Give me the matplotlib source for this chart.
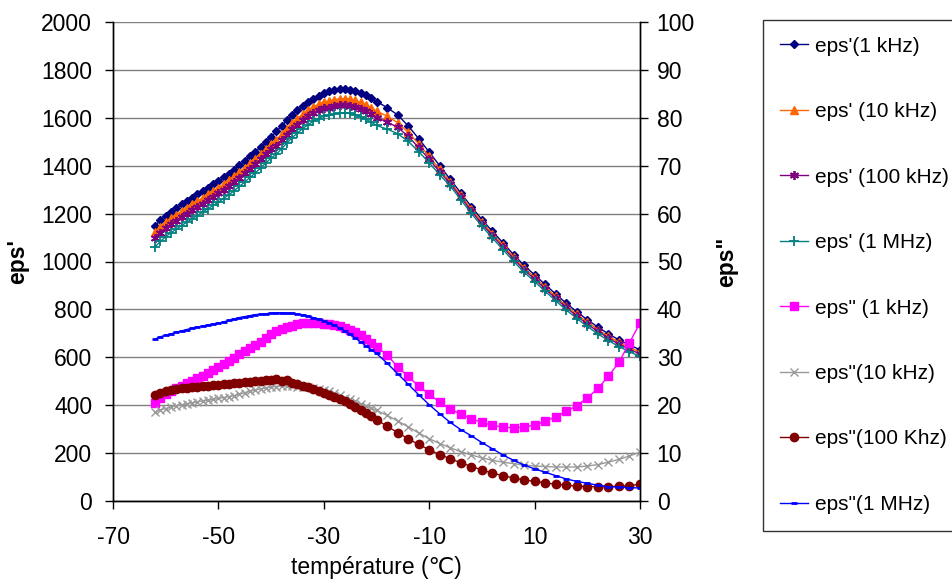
import matplotlib
matplotlib.use("Agg")
import matplotlib.pyplot as plt

plt.rcParams['font.family'] = ['Liberation Sans', 'DejaVu Sans']
plt.rcParams['axes.unicode_minus'] = False

# temperature (degC)
temp = [-62, -61, -60, -59, -58, -57, -56, -55, -54, -53, -52, -51, -50, -49, -48,
        -47, -46, -45, -44, -43, -42, -41, -40, -39, -38, -37, -36, -35, -34, -33,
        -32, -31, -30, -29, -28, -27, -26, -25, -24, -23, -22, -21, -20,
        -18, -16, -14, -12, -10, -8, -6, -4, -2, 0, 2, 4, 6, 8, 10, 12, 14, 16,
        18, 20, 22, 24, 26, 28, 30]

# eps' (left axis)
eps1_1k = [1150, 1172, 1192, 1208, 1223, 1238, 1252, 1266, 1280, 1294, 1308, 1322, 1336, 1351, 1367,
           1384, 1402, 1420, 1439, 1458, 1478, 1499, 1520, 1543, 1566, 1590, 1612, 1632, 1650, 1666,
           1680, 1692, 1702, 1710, 1716, 1719, 1720, 1718, 1713, 1705, 1694, 1682, 1668,
           1643, 1612, 1567, 1513, 1457, 1400, 1343, 1286, 1229, 1175, 1126, 1078, 1029, 984, 944, 904, 864, 826,
           790, 757, 726, 698, 673, 651, 632]
eps1_10k = [1122, 1144, 1164, 1180, 1195, 1210, 1224, 1238, 1252, 1266, 1280, 1294, 1308, 1323, 1339,
            1356, 1374, 1392, 1411, 1430, 1450, 1471, 1492, 1508, 1531, 1555, 1577, 1597, 1615, 1631,
            1645, 1657, 1667, 1670, 1676, 1679, 1680, 1678, 1673, 1665, 1654, 1642, 1628,
            1607, 1580, 1540, 1491, 1439, 1385, 1333, 1276, 1219, 1165, 1116, 1068, 1019, 974, 934, 894, 854, 816,
            780, 747, 716, 688, 663, 641, 622]
eps1_100k = [1098, 1120, 1140, 1156, 1171, 1186, 1200, 1214, 1228, 1242, 1256, 1270, 1284, 1299, 1315,
             1332, 1350, 1368, 1387, 1406, 1426, 1447, 1468, 1483, 1506, 1530, 1552, 1572, 1590, 1606,
             1620, 1632, 1642, 1643, 1649, 1652, 1653, 1651, 1646, 1638, 1627, 1615, 1601,
             1583, 1560, 1523, 1476, 1427, 1374, 1325, 1268, 1211, 1157, 1108, 1060, 1011, 966, 926, 886, 846, 808,
             772, 739, 708, 680, 655, 633, 614]
eps1_1M = [1062, 1084, 1104, 1120, 1135, 1150, 1164, 1178, 1192, 1206, 1220, 1234, 1248, 1263, 1279,
           1296, 1314, 1332, 1351, 1370, 1390, 1411, 1432, 1448, 1471, 1495, 1517, 1537, 1555, 1571,
           1585, 1597, 1607, 1610, 1616, 1619, 1620, 1618, 1613, 1605, 1594, 1582, 1568,
           1553, 1534, 1502, 1459, 1412, 1362, 1315, 1258, 1201, 1147, 1098, 1050, 1001, 956, 916, 876, 836, 798,
           762, 729, 698, 670, 645, 623, 604]

# eps'' (right axis)
eps2_1k = [20.5, 21.5, 22.3, 23.0, 23.6, 24.1, 24.6, 25.1, 25.6, 26.1, 26.7, 27.3, 28.0, 28.6, 29.2,
           29.9, 30.6, 31.3, 31.9, 32.5, 33.2, 34.0, 34.8, 35.5, 35.9, 36.3, 36.6, 36.9, 37.1, 37.2,
           37.2, 37.1, 37.0, 36.9, 36.7, 36.5, 36.2, 35.7, 35.2, 34.6, 33.8, 33.0, 32.2,
           30.5, 28.0, 26.0, 24.0, 22.3, 20.6, 19.2, 18.1, 17.2, 16.4, 15.8, 15.4, 15.3, 15.4, 15.9, 16.6, 17.6, 18.7,
           19.9, 21.5, 23.5, 26.0, 29.0, 33.0, 37.2]
eps2_10k = [18.6, 19.0, 19.3, 19.6, 19.9, 20.1, 20.3, 20.5, 20.7, 20.9, 21.0, 21.2, 21.4, 21.6, 21.8,
            22.0, 22.3, 22.6, 22.9, 23.2, 23.4, 23.6, 23.8, 23.9, 24.0, 24.0, 24.0, 23.9, 23.9, 23.8,
            23.6, 23.4, 23.2, 22.9, 22.5, 22.1, 21.6, 21.2, 20.8, 20.3, 19.9, 19.4, 18.9,
            17.9, 16.7, 15.5, 14.2, 13.0, 12.0, 11.1, 10.3, 9.6, 9.0, 8.5, 8.1, 7.8, 7.5, 7.3, 7.2, 7.1, 7.1,
            7.1, 7.3, 7.6, 8.1, 8.7, 9.4, 10.2]
eps2_100k = [22.2, 22.6, 22.9, 23.1, 23.3, 23.5, 23.6, 23.8, 23.9, 24.0, 24.1, 24.2, 24.3, 24.4, 24.5,
             24.6, 24.7, 24.8, 24.9, 25.0, 25.1, 25.2, 25.3, 25.4, 25.0, 25.2, 24.7, 24.4, 24.1, 23.7,
             23.3, 22.9, 22.5, 22.1, 21.7, 21.3, 20.8, 20.3, 19.7, 19.1, 18.4, 17.7, 17.0,
             15.6, 14.3, 13.0, 11.8, 10.7, 9.7, 8.8, 8.0, 7.2, 6.5, 5.8, 5.3, 4.8, 4.4, 4.1, 3.8, 3.5, 3.3,
             3.1, 3.0, 3.0, 3.0, 3.1, 3.2, 3.5]
eps2_1M = [33.8, 34.3, 34.6, 34.9, 35.2, 35.5, 35.8, 36.1, 36.3, 36.5, 36.7, 36.9, 37.1, 37.4, 37.7,
           38.0, 38.3, 38.5, 38.7, 38.9, 39.0, 39.1, 39.2, 39.3, 39.3, 39.2, 39.2, 39.0, 38.9, 38.6,
           38.3, 38.0, 37.6, 37.2, 36.7, 36.1, 35.5, 34.8, 34.0, 33.2, 32.4, 31.6, 30.8,
           28.8, 26.6, 24.4, 22.2, 20.1, 18.2, 16.4, 14.9, 13.6, 12.2, 10.9, 9.6, 8.5, 7.5, 6.7, 6.0, 5.3, 4.6,
           4.1, 3.7, 3.3, 3.0, 2.9, 2.8, 2.7]

fs = 16.5

fig = plt.figure(figsize=(9.52, 5.81), dpi=100)
ax = fig.add_axes([113/952, 1-501/581, 527/952, 479/581])
ax2 = ax.twinx()

h = []
h += ax.plot(temp, eps1_1k, color='#000080', marker='D', ms=4.5, lw=1, label="eps'(1 kHz)")
h += ax.plot(temp, eps1_10k, color='#FF6600', marker='^', ms=5.5, lw=1, label="eps' (10 kHz)")
h += ax.plot(temp, eps1_100k, color='#800080', marker=(6, 2, 0), ms=6.5, mew=1.3, lw=1, label="eps' (100 kHz)")
h += ax.plot(temp, eps1_1M, color='#008080', marker='+', ms=7, mew=1.3, lw=1, label="eps' (1 MHz)")

h += ax2.plot(temp, eps2_1k, color='#FF00FF', marker='s', ms=5.5, lw=1, label='eps" (1 kHz)')
h += ax2.plot(temp, eps2_10k, color='#999999', marker='x', ms=6, mew=1, lw=1, label='eps"(10 kHz)')
h += ax2.plot(temp, eps2_100k, color='#800000', marker='o', ms=6, lw=1, label='eps"(100 Khz)')
h += ax2.plot(temp, eps2_1M, color='#0000FF', marker='_', ms=4, mew=2, lw=1, label='eps"(1 MHz)')

ax.set_xlim(-70, 30)
ax.set_ylim(0, 2000)
ax2.set_ylim(0, 100)
ax.set_xticks([-70, -50, -30, -10, 10, 30])
ax.set_yticks(range(0, 2001, 200))
ax2.set_yticks(range(0, 101, 10))

ax.yaxis.grid(True, color='#808080', lw=1)
ax.set_axisbelow(True)
for a in (ax, ax2):
    a.spines['top'].set_visible(False)
    for s in ('left', 'right', 'bottom'):
        a.spines[s].set_color('black')
        a.spines[s].set_linewidth(1)
    a.tick_params(labelsize=fs, direction='out', length=6, width=1)
ax.tick_params(axis='y', pad=9)
ax.tick_params(axis='x', pad=12)
ax2.tick_params(axis='y', pad=6)

ax.set_xlabel('température (℃)', fontsize=fs)
ax.xaxis.set_label_coords(0.5, -0.114)
ax.set_ylabel("eps'", fontsize=fs, fontweight='bold')
ax.yaxis.set_label_coords(-0.16, 0.5)
ax2.set_ylabel('eps"', fontsize=fs, fontweight='bold')
ax2.yaxis.set_label_coords(1.142, 0.5)

leg = fig.legend(handles=h, loc='upper left', bbox_to_anchor=(763/952, 1-20/581),
                 frameon=True, fancybox=False, edgecolor='black', fontsize=15,
                 labelspacing=2.23, handlelength=1.35, handletextpad=0.34,
                 borderpad=0.8, borderaxespad=0)
leg.get_frame().set_linewidth(1)

fig.savefig('out.png', dpi=100)
